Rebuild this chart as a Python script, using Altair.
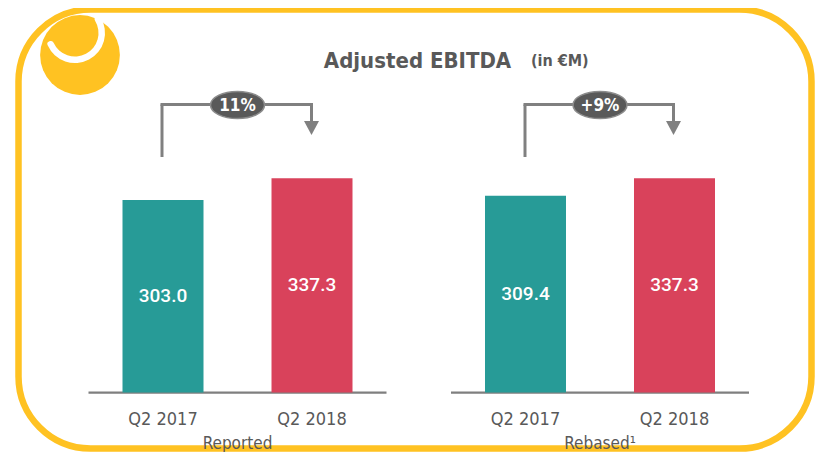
import altair as alt
import pandas as pd

# ---------------- data ----------------
panels = ["Reported", "Rebased¹"]
quarters = ["Q2 2017", "Q2 2018"]
values_reported = [303.0, 337.3]
values_rebased = [309.4, 337.3]
growth_labels = ["11%", "+9%"]
bar_colors = ["#279B97", "#D9425B"]
title_text = "Adjusted EBITDA"
unit_text = "(in €M)"

rows = []
for p, vals in zip(panels, [values_reported, values_rebased]):
    for q, v in zip(quarters, vals):
        rows.append({"panel": p, "quarter": q, "value": v, "label": f"{v:.1f}"})
bars_df = pd.DataFrame(rows)
growth_df = pd.DataFrame({"panel": panels, "growth": growth_labels})
one = pd.DataFrame({"k": [0]})

# ---------------- styles ----------------
NARROW = "DejaVu Sans Condensed"
GRAY_TXT = "#595959"
LINE_GRAY = "#808080"
YELLOW = "#FFC222"

x_enc = alt.X(
    "panel:N",
    sort=panels,
    title=None,
    scale=alt.Scale(range=[80.5, 741], paddingInner=0.1779, paddingOuter=0),
    axis=alt.Axis(
        orient="bottom", domain=False, ticks=False, tickSize=0, grid=False,
        labelPadding=0, labelBaseline="alphabetic", labelAngle=0,
        labelFont=NARROW, labelFontSize=17, labelColor=GRAY_TXT,
        labelOverlap=False, labelLimit=0, offset=-4, zindex=1,
    ),
)
xo_enc = alt.XOffset(
    "quarter:N", sort=quarters,
    scale=alt.Scale(paddingInner=0.4564, paddingOuter=0.2282),
)
y_scale = alt.Scale(domain=[0, 605], range=[384.5, 0])

# ---------------- decorations ----------------
frame = alt.Chart(one).mark_rect(
    fill="transparent", stroke=YELLOW, strokeWidth=6.5, cornerRadius=72
).encode(x=alt.value(10.5), x2=alt.value(803.5), y=alt.value(1.5), y2=alt.value(440.5))

logo = alt.Chart(one).mark_point(
    shape="circle", filled=True, opacity=1, color=YELLOW, size=6362
).encode(x=alt.value(72), y=alt.value(47))

logo_arc = alt.Chart(one).mark_arc(color="white", cornerRadius=3).encode(
    x=alt.value(67), y=alt.value(25),
    theta=alt.value(0.91), theta2=alt.value(4.4),
    radius=alt.value(30), radius2=alt.value(23.5),
)

title = alt.Chart(one).mark_text(
    text=title_text, font=NARROW, fontSize=22, fontWeight="bold",
    color=GRAY_TXT, align="center", baseline="alphabetic",
).encode(x=alt.value(409.5), y=alt.value(59.5))

unit = alt.Chart(one).mark_text(
    text=unit_text, font=NARROW, fontSize=16, fontWeight="bold",
    color=GRAY_TXT, align="left", baseline="alphabetic",
).encode(x=alt.value(523), y=alt.value(57.5))

# ---------------- bars ----------------
baseline = alt.Chart(growth_df).mark_bar(color="#7F7F7F").encode(
    x=x_enc, y=alt.value(383.5), y2=alt.value(385.7)
)

bars = alt.Chart(bars_df).mark_bar().encode(
    x=x_enc, xOffset=xo_enc,
    y=alt.Y("value:Q", scale=y_scale, axis=None),
    color=alt.Color("quarter:N", sort=quarters,
                    scale=alt.Scale(domain=quarters, range=bar_colors), legend=None),
)

value_labels = alt.Chart(bars_df).transform_calculate(
    mid="datum.value / 2"
).mark_text(
    font="Roboto", fontSize=19, fontWeight=500, color="white",
    align="center", baseline="middle"
).encode(
    x=x_enc, xOffset=xo_enc,
    y=alt.Y("mid:Q", scale=y_scale, axis=None),
    text="label:N",
)

quarter_labels = alt.Chart(bars_df).mark_text(
    font=NARROW, fontSize=18, color=GRAY_TXT, align="center", baseline="alphabetic"
).encode(x=x_enc, xOffset=xo_enc, y=alt.value(417), text="quarter:N")

# ---------------- growth brackets ----------------
bracket_layers = []
for xl, xr in [(154, 303.5), (517, 665.5)]:
    lc = dict(color=LINE_GRAY, strokeWidth=3)
    bracket_layers.append(alt.Chart(one).mark_rule(**lc).encode(
        x=alt.value(xl), y=alt.value(149), y2=alt.value(96.5)))
    bracket_layers.append(alt.Chart(one).mark_rule(**lc).encode(
        x=alt.value(xl - 1.5), x2=alt.value(xr + 1.5), y=alt.value(96.5)))
    bracket_layers.append(alt.Chart(one).mark_rule(**lc).encode(
        x=alt.value(xr), y=alt.value(96.5), y2=alt.value(115)))
    bracket_layers.append(alt.Chart(one).mark_point(
        shape="M-1,-0.93 L1,-0.93 L0,0.93 Z", filled=True, opacity=1,
        color=LINE_GRAY, size=225, strokeWidth=0,
    ).encode(x=alt.value(xr), y=alt.value(120)))

ovals = alt.Chart(growth_df).mark_point(
    shape="M-1,0 A1,0.5 0 1,1 1,0 A1,0.5 0 1,1 -1,0 Z",
    filled=True, opacity=1, fill="#595959", stroke="#8C8C8C", strokeWidth=1.5,
    size=2916,
).encode(x=x_enc, y=alt.value(97))

growth_text = alt.Chart(growth_df).mark_text(
    font=NARROW, fontSize=17, fontWeight="bold", color="white",
    align="center", baseline="middle",
).encode(x=x_enc, y=alt.value(97.5), text="growth:N")

chart = alt.layer(
    frame, logo, logo_arc, title, unit, baseline, bars, value_labels,
    quarter_labels, *bracket_layers, ovals, growth_text,
).properties(
    width=807, height=444, padding=0,
    autosize=alt.AutoSizeParams(type="none"),
    background="white",
).configure_view(strokeWidth=0)

chart.save("out.html", embed_options={"renderer": "svg", "actions": False})
